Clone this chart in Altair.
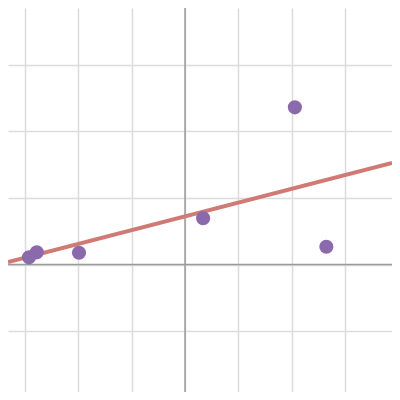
import altair as alt
import pandas as pd

xs = [-2.925, -2.78, -1.988, 0.34, 2.06, 2.65]
ys = [0.108, 0.183, 0.177, 0.695, 2.358, 0.267]
x_grid = [-3, -2, -1, 0, 1, 2, 3]
y_grid = [-1, 0, 1, 2, 3]

XDOM = [-3.319, 3.881]
YDOM = [-1.9125, 3.848]

df = pd.DataFrame({"x": xs, "y": ys})

xs_scale = alt.Scale(domain=XDOM, nice=False, zero=False)
ys_scale = alt.Scale(domain=YDOM, nice=False, zero=False)

xax = alt.Axis(values=x_grid, labels=False, ticks=False, domain=False, title=None,
               grid=True, gridColor="#dcdcdc", gridWidth=1.5)
yax = alt.Axis(values=y_grid, labels=False, ticks=False, domain=False, title=None,
               grid=True, gridColor="#dcdcdc", gridWidth=1.5)

base = alt.Chart(df)

grid = base.mark_point(opacity=0).encode(
    x=alt.X("x:Q", scale=xs_scale, axis=xax),
    y=alt.Y("y:Q", scale=ys_scale, axis=yax),
)

zero_df = pd.DataFrame({"z": [0]})
vrule = alt.Chart(zero_df).mark_rule(color="#9a9a9a", strokeWidth=1.5).encode(
    x=alt.X("z:Q", scale=xs_scale)
)
hrule = alt.Chart(zero_df).mark_rule(color="#9a9a9a", strokeWidth=1.5).encode(
    y=alt.Y("z:Q", scale=ys_scale)
)

reg = base.transform_regression("x", "y", extent=XDOM).mark_line(
    color="#d07a75", strokeWidth=4, clip=True
).encode(
    x=alt.X("x:Q", scale=xs_scale),
    y=alt.Y("y:Q", scale=ys_scale),
)

pts = base.mark_circle(size=200, color="#8a6aab", opacity=1).encode(
    x=alt.X("x:Q", scale=xs_scale),
    y=alt.Y("y:Q", scale=ys_scale),
)

chart = alt.layer(grid, vrule, hrule, reg, pts).properties(
    width=384, height=384, padding=0, autosize=alt.AutoSizeParams(type="none")
).configure_view(stroke=None)

chart.save("out.html", embed_options={"renderer": "svg", "actions": False})
